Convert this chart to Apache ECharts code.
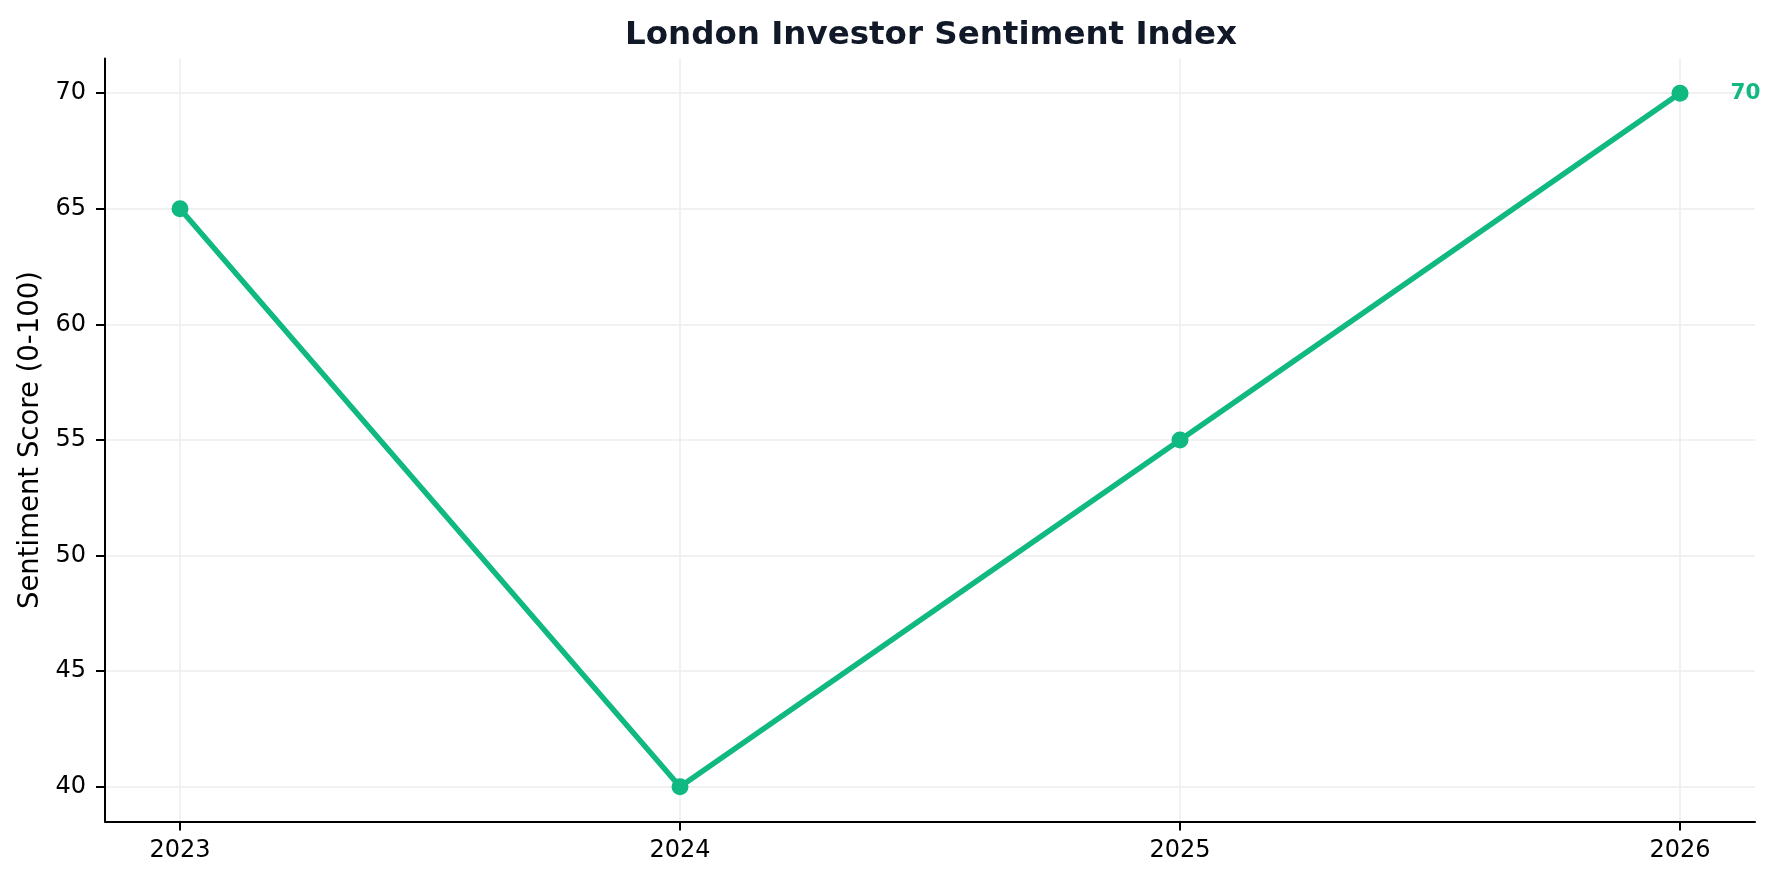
<!DOCTYPE html>
<html>
<head>
<meta charset="utf-8">
<script src="https://cdn.jsdelivr.net/npm/echarts@6/dist/echarts.min.js"></script>
<style>
html,body{margin:0;padding:0;background:#fff;}
#chart{width:1779px;height:881px;}
</style>
</head>
<body>
<div id="chart"></div>
<script>
const years = ['2023', '2024', '2025', '2026'];
const sentiment = [65, 40, 55, 70];
const yTicks = [40, 45, 50, 55, 60, 65, 70];

const GREEN = '#10b981';
const xPositions = years.map((_, i) => i);
const seriesData = sentiment.map((v, i) => {
  const item = { value: [i, v] };
  if (i === sentiment.length - 1) {
    item.label = { show: true };
  }
  return item;
});

const chart = echarts.init(document.getElementById('chart'), null, { renderer: 'canvas' });
chart.setOption({
  backgroundColor: '#ffffff',
  animation: false,
  textStyle: { fontFamily: 'DejaVu Sans' },
  title: {
    text: 'London Investor Sentiment Index',
    left: 926,
    top: 14.5,
    textAlign: 'center',
    textStyle: { fontFamily: 'DejaVu Sans', fontSize: 32.5, fontWeight: 'bold', color: '#111827' }
  },
  grid: { left: 105, right: 24, top: 58.5, bottom: 59.5, containLabel: false },
  xAxis: {
    type: 'value',
    min: -0.15,
    max: 3.15,
    axisLine: { show: true, onZero: false, lineStyle: { color: '#000', width: 2 } },
    axisTick: { show: true, length: 9, customValues: xPositions, lineStyle: { color: '#000', width: 2 } },
    axisLabel: {
      customValues: xPositions,
      margin: 17,
      fontSize: 24,
      color: '#000',
      fontFamily: 'DejaVu Sans',
      formatter: (v) => years[Math.round(v)] || ''
    },
    splitLine: { show: true, lineStyle: { color: '#ececec', width: 1.5 } }
  },
  yAxis: {
    type: 'value',
    min: 38.5,
    max: 71.5,
    name: 'Sentiment Score (0-100)',
    nameLocation: 'middle',
    nameGap: 60,
    nameTextStyle: { fontSize: 27.5, color: '#000', fontFamily: 'DejaVu Sans' },
    axisLine: { show: true, onZero: false, lineStyle: { color: '#000', width: 2 } },
    axisTick: { show: true, length: 9, customValues: yTicks, lineStyle: { color: '#000', width: 2 } },
    axisLabel: { customValues: yTicks, margin: 19, fontSize: 24, color: '#000', fontFamily: 'DejaVu Sans' },
    splitLine: { show: true, lineStyle: { color: '#ececec', width: 1.5 } }
  },
  series: [{
    type: 'line',
    data: seriesData,
    symbol: 'circle',
    symbolSize: 17,
    showAllSymbol: true,
    lineStyle: { color: GREEN, width: 5.5 },
    itemStyle: { color: GREEN },
    label: {
      show: false,
      position: 'right',
      distance: 42,
      color: GREEN,
      fontWeight: 'bold',
      fontSize: 21.5,
      fontFamily: 'DejaVu Sans',
      formatter: (p) => String(p.value[1])
    },
    z: 3
  }]
});
</script>
</body>
</html>
